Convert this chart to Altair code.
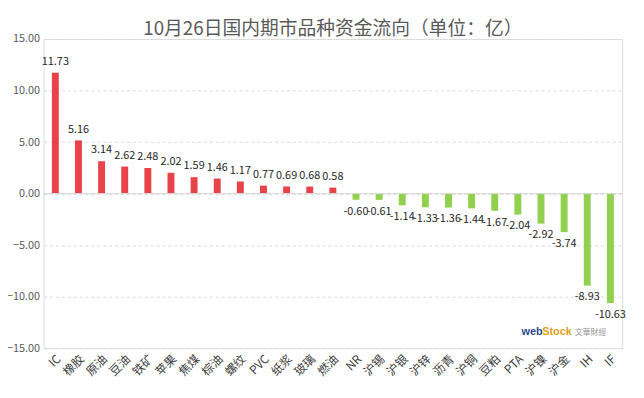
import altair as alt
import pandas as pd

categories = ["IC", "橡胶", "原油", "豆油", "铁矿", "苹果", "焦煤", "棕油", "螺纹", "PVC", "纸浆", "玻璃", "燃油",
              "NR", "沪锡", "沪银", "沪锌", "沥青", "沪铜", "豆粕", "PTA", "沪镍", "沪金", "IH", "IF"]
values = [11.73, 5.16, 3.14, 2.62, 2.48, 2.02, 1.59, 1.46, 1.17, 0.77, 0.69, 0.68, 0.58,
          -0.60, -0.61, -1.14, -1.33, -1.36, -1.44, -1.67, -2.04, -2.92, -3.74, -8.93, -10.63]
y_ticks = [-15, -10, -5, 0, 5, 10, 15]
title_text = "10月26日国内期市品种资金流向（单位：亿）"

df = pd.DataFrame({"cat": categories, "val": values})
df["sign"] = ["pos" if v >= 0 else "neg" for v in values]
df["label"] = [f"{v:.2f}" for v in values]

FONT = "Noto Sans CJK SC"

x_enc = alt.X("cat:N", sort=categories,
              scale=alt.Scale(paddingInner=0.7, paddingOuter=0.36),
              axis=alt.Axis(title=None, labelAngle=-45, labelFontSize=12, labelColor="#404040",
                            labelFont=FONT, ticks=False, domain=False, labelPadding=5,
                            labelAlign="right", labelBaseline="top"))
y_scale = alt.Scale(domain=[-15, 15], nice=False)

bars = alt.Chart(df).mark_bar().encode(
    x=x_enc,
    y=alt.Y("val:Q", scale=y_scale,
            axis=alt.Axis(title=None, values=y_ticks, format=".2f", labelFontSize=11,
                          labelColor="#595959", labelFont=FONT, ticks=False, domain=False,
                          gridColor="#d9d9d9", gridDash=[3, 3], labelPadding=4)),
    color=alt.Color("sign:N", scale=alt.Scale(domain=["pos", "neg"], range=["#E8434A", "#92D050"]),
                    legend=None),
)

zero = alt.Chart(pd.DataFrame({"z": [0]})).mark_rule(color="#d9d9d9", strokeWidth=1).encode(
    y=alt.Y("z:Q", scale=y_scale))

pos_labels = alt.Chart(df[df.val >= 0]).mark_text(
    baseline="bottom", dy=-6, fontSize=11, font=FONT, color="#262626").encode(
    x=alt.X("cat:N", sort=categories), y=alt.Y("val:Q", scale=y_scale), text="label:N")

neg_labels = alt.Chart(df[df.val < 0]).mark_text(
    baseline="top", dy=6, fontSize=11, font=FONT, color="#262626").encode(
    x=alt.X("cat:N", sort=categories), y=alt.Y("val:Q", scale=y_scale), text="label:N")

wm1 = alt.Chart(pd.DataFrame({"t": ["web"]})).mark_text(
    fontSize=11, fontWeight="bold", color="#2E4A8C", font="Liberation Sans", align="left").encode(
    x=alt.value(484), y=alt.value(297), text="t:N")
wm2 = alt.Chart(pd.DataFrame({"t": ["Stock"]})).mark_text(
    fontSize=11, fontWeight="bold", color="#E0A020", font="Liberation Sans", align="left").encode(
    x=alt.value(505), y=alt.value(297), text="t:N")
wm3 = alt.Chart(pd.DataFrame({"t": ["文華財經"]})).mark_text(
    fontSize=8, color="#9a9a9a", font=FONT, align="left").encode(
    x=alt.value(538), y=alt.value(298), text="t:N")

chart = alt.layer(bars, zero, pos_labels, neg_labels, wm1, wm2, wm3).properties(
    width=586, height=313,
    title=alt.TitleParams(title_text, fontSize=19, font=FONT, color="#595959",
                          fontWeight="normal", anchor="middle", offset=0, dy=6),
    autosize=alt.AutoSizeParams(type="none"),
    padding={"left": 36, "top": 29, "right": 14, "bottom": 40},
).configure_view(stroke=None).configure(background="white")

chart.save("out.html", embed_options={"renderer": "svg", "actions": False})
